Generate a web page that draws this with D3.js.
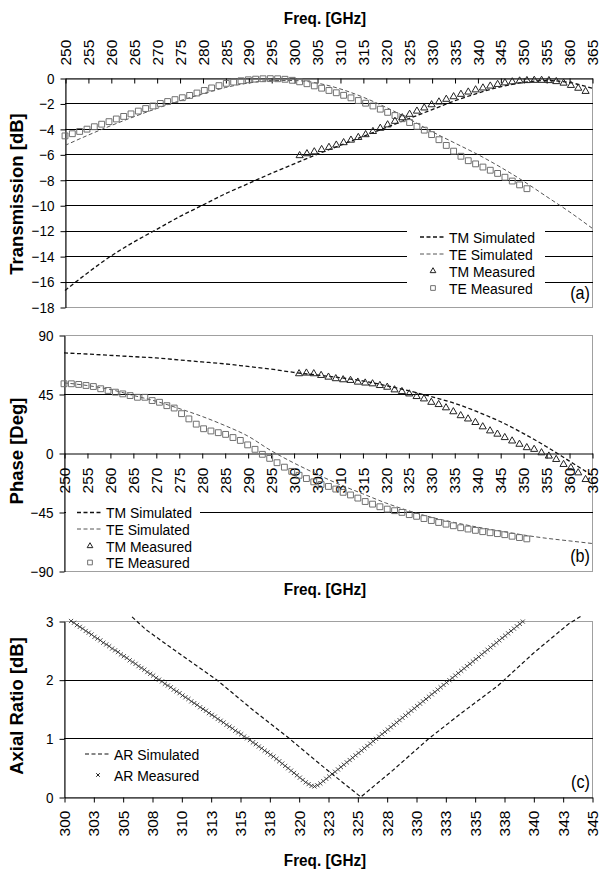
<!DOCTYPE html>
<html>
<head>
<meta charset="utf-8">
<script src="https://cdn.jsdelivr.net/npm/d3@7"></script>
<style>
  body { margin: 0; background: #fff; }
  svg { display: block; font-family: "Liberation Sans", Arial, sans-serif; }
</style>
</head>
<body>
<div id="chart"></div>
<script>
// tick values / labels
var freqTicks = [250,255,260,265,270,275,280,285,290,295,300,305,310,315,320,325,330,335,340,345,350,355,360,365];
var transTicks = [0,-2,-4,-6,-8,-10,-12,-14,-16,-18];
var phaseTicks = [90,45,0,-45,-90];
var arYTicks = [0,1,2,3];
var arTicks = [300,302.5,305,307.5,310,312.5,315,317.5,320,322.5,325,327.5,330,332.5,335,337.5,340,342.5,345];
var arTickLabels = ["300","303","305","308","310","313","315","318","320","323","325","328","330","333","335","338","340","343","345"];

// simulated curves, every 5 GHz
var simFreq = [250,255,260,265,270,275,280,285,290,295,300,305,310,315,320,325,330,335,340,345,350,355,360,365];
var tmSimTrans = [-16.7,-15.3,-14.0,-12.9,-11.9,-10.9,-10.0,-9.1,-8.3,-7.5,-6.75,-6.0,-5.3,-4.6,-3.9,-3.2,-2.5,-1.8,-1.2,-0.7,-0.35,-0.2,-0.35,-0.8];
var teSimTrans = [-5.3,-4.5,-3.75,-3.05,-2.4,-1.8,-1.25,-0.75,-0.4,-0.2,-0.2,-0.4,-0.85,-1.5,-2.3,-3.2,-4.2,-5.1,-6.0,-7.0,-8.1,-9.3,-10.5,-11.8];
var tmSimPhase = [76.3,75.5,74.5,73.5,72.5,71,69.5,68,66,64,61.5,59.5,57.5,55,51.5,47.5,43,38,31.5,24,15,5,-6,-17];
var teSimPhase = [53.5,51.5,48.5,44,39.5,34,28,21,13,2,-7.5,-16,-24,-31,-38,-44,-49,-53,-56.5,-59.5,-62.5,-65,-67,-69];

// measured points
var teMeasFreq = [250,251.6,253.2,254.8,256.4,258,259.6,261.2,262.8,264.4,266,267.6,269.2,270.8,272.4,274,275.6,277.2,278.8,280.4,282,283.6,285.2,286.8,288.4,290,291.6,293.2,294.8,296.4,298,299.6,301.2,302.8,304.4,306,307.6,309.2,310.8,312.4,314,315.6,317.2,318.8,320.4,322,323.6,325.2,326.8,328.4,330,331.6,333.2,334.8,336.4,338,339.6,341.2,342.8,344.4,346,347.6,349.2,350.8];
var teMeasTrans = [-4.55,-4.38,-4.2,-4.02,-3.83,-3.63,-3.43,-3.22,-3.02,-2.82,-2.6,-2.4,-2.2,-2.0,-1.85,-1.7,-1.55,-1.37,-1.18,-0.98,-0.78,-0.6,-0.42,-0.32,-0.22,-0.14,-0.09,-0.06,-0.05,-0.06,-0.1,-0.18,-0.3,-0.45,-0.62,-0.8,-0.98,-1.16,-1.36,-1.56,-1.77,-1.98,-2.2,-2.45,-2.7,-2.95,-3.2,-3.5,-3.8,-4.1,-4.45,-4.85,-5.3,-5.75,-6.15,-6.5,-6.75,-7.0,-7.25,-7.5,-7.8,-8.1,-8.4,-8.7];
var teMeasPhase = [52.8,52.8,52.3,51.5,50.7,49,47.7,46.4,45.1,43.8,42.5,42.5,40,38.7,36.1,34.3,30,26,22,18.5,16.8,15.5,14.2,11.8,9.6,6.2,2.8,-1,-4.1,-7.4,-10.8,-14,-17,-19.5,-22,-24,-25.5,-27.5,-30,-32,-34.4,-37,-39,-41,-42.8,-44,-45.3,-47,-48.3,-50,-51.5,-53,-54.3,-55.5,-57,-58,-59,-60,-60.8,-61.5,-62.3,-63.5,-64.5,-65.5];
var tmMeasFreq = [301.2,302.8,304.4,306,307.6,309.2,310.8,312.4,314,315.6,317.2,318.8,320.4,322,323.6,325.2,326.8,328.4,330,331.6,333.2,334.8,336.4,338,339.6,341.2,342.8,344.4,346,347.6,349.2,350.8,352.4,354,355.6,357.2,358.8,360.4,362,363.6];
var tmMeasTrans = [-6.1,-5.95,-5.8,-5.62,-5.45,-5.27,-5.08,-4.88,-4.67,-4.45,-4.2,-3.95,-3.68,-3.4,-3.12,-2.85,-2.6,-2.35,-2.1,-1.88,-1.67,-1.47,-1.28,-1.1,-0.93,-0.78,-0.63,-0.5,-0.38,-0.3,-0.23,-0.2,-0.18,-0.18,-0.2,-0.28,-0.4,-0.58,-0.8,-1.05];
var tmMeasPhase = [60.5,61,60.5,59.2,57.9,56.7,55.9,55.4,54.1,53.4,52.8,51.5,50.2,48.2,46.9,45.1,43.1,41.3,38.7,37,34.5,31.5,28.5,26,23.3,20,16.9,14.4,11.8,9.2,6.7,4.1,2.8,0.2,-2.3,-4.9,-8.7,-11.3,-15.1,-20.2];

// axial ratio
var arSimFreq = [305.8,307,310,313,316,319,322,325.3,328,331,334,337,340,343,344.2];
var arSim = [3.07,2.85,2.42,2.0,1.5,1.03,0.53,0,0.45,0.98,1.45,1.9,2.45,2.95,3.1];
var arMeasFreq = [
  300.6,300.85,301.1,301.35,301.6,301.85,302.1,302.35,302.6,302.85,
  303.1,303.35,303.6,303.85,304.1,304.35,304.6,304.85,305.1,305.35,
  305.6,305.85,306.1,306.35,306.6,306.85,307.1,307.35,307.6,307.85,
  308.1,308.35,308.6,308.85,309.1,309.35,309.6,309.85,310.1,310.35,
  310.6,310.85,311.1,311.35,311.6,311.85,312.1,312.35,312.6,312.85,
  313.1,313.35,313.6,313.85,314.1,314.35,314.6,314.85,315.1,315.35,
  315.6,315.85,316.1,316.35,316.6,316.85,317.1,317.35,317.6,317.85,
  318.1,318.35,318.6,318.85,319.1,319.35,319.6,319.85,320.1,320.35,
  320.6,320.85,321.1,321.35,321.6,321.85,322.1,322.35,322.6,322.85,
  323.1,323.35,323.6,323.85,324.1,324.35,324.6,324.85,325.1,325.35,
  325.6,325.85,326.1,326.35,326.6,326.85,327.1,327.35,327.6,327.85,
  328.1,328.35,328.6,328.85,329.1,329.35,329.6,329.85,330.1,330.35,
  330.6,330.85,331.1,331.35,331.6,331.85,332.1,332.35,332.6,332.85,
  333.1,333.35,333.6,333.85,334.1,334.35,334.6,334.85,335.1,335.35,
  335.6,335.85,336.1,336.35,336.6,336.85,337.1,337.35,337.6,337.85,
  338.1,338.35,338.6,338.85,339.1];
var arMeas = [
  3.00,2.97,2.93,2.90,2.87,2.83,2.80,2.77,2.73,2.70,
  2.67,2.63,2.60,2.57,2.53,2.50,2.47,2.43,2.40,2.37,
  2.33,2.30,2.27,2.23,2.20,2.17,2.13,2.10,2.07,2.03,
  2.00,1.97,1.93,1.90,1.87,1.83,1.80,1.77,1.73,1.70,
  1.67,1.63,1.60,1.57,1.53,1.50,1.47,1.43,1.40,1.37,
  1.33,1.30,1.27,1.23,1.20,1.17,1.13,1.10,1.07,1.03,
  1.00,0.97,0.93,0.90,0.86,0.83,0.79,0.76,0.72,0.69,
  0.65,0.61,0.57,0.53,0.49,0.45,0.41,0.37,0.33,0.29,
  0.25,0.22,0.19,0.18,0.20,0.23,0.27,0.31,0.35,0.39,
  0.43,0.47,0.51,0.55,0.59,0.63,0.67,0.71,0.75,0.79,
  0.83,0.87,0.91,0.95,0.99,1.03,1.07,1.11,1.15,1.19,
  1.23,1.27,1.31,1.35,1.39,1.43,1.47,1.51,1.55,1.59,
  1.63,1.67,1.71,1.75,1.79,1.83,1.87,1.91,1.95,1.99,
  2.03,2.07,2.11,2.15,2.19,2.23,2.27,2.31,2.35,2.39,
  2.43,2.47,2.51,2.55,2.59,2.63,2.67,2.71,2.75,2.79,
  2.83,2.87,2.91,2.95,2.99];

var svg = d3.select("#chart").append("svg")
    .attr("width", 600)
    .attr("height", 873);

// scales of the three panels
var xA = d3.scaleLinear().domain([250, 365]).range([65, 592]);
var yA = d3.scaleLinear().domain([-18, 0]).range([307, 78]);
var xB = d3.scaleLinear().domain([250, 365]).range([64, 592]);
var yB = d3.scaleLinear().domain([-90, 90]).range([571, 335]);
var xC = d3.scaleLinear().domain([300, 345]).range([64, 592]);
var yC = d3.scaleLinear().domain([0, 3]).range([797, 621]);

var squeeze = 0.9;   // the original text is a bit narrow

function label(x, y, txt, size, anchor, weight) {
  return svg.append("text")
      .attr("transform", "translate(" + x + "," + y + ") scale(" + squeeze + ",1)")
      .attr("text-anchor", anchor)
      .attr("font-size", size)
      .attr("font-weight", weight || "normal")
      .text(txt);
}

function vlabel(x, y, txt) {
  svg.append("text")
      .attr("transform", "translate(" + x + "," + y + ") rotate(-90)")
      .attr("text-anchor", "middle")
      .attr("font-size", 18.5)
      .attr("font-weight", "bold")
      .text(txt);
}

// gray frame plus black grid lines
function frame(x, y, grid) {
  var x0 = x.range()[0], x1 = x.range()[1];
  var top = y.range()[1], bot = y.range()[0];
  svg.append("rect")
      .attr("x", x0 + 0.5).attr("y", top + 0.5)
      .attr("width", x1 - x0).attr("height", bot - top)
      .attr("fill", "none")
      .attr("stroke", "#a0a0a0");
  svg.append("g").selectAll("line")
    .data(grid)
    .join("line")
      .attr("x1", x0).attr("x2", x1 + 1)
      .attr("y1", d => Math.round(y(d)) + 0.5)
      .attr("y2", d => Math.round(y(d)) + 0.5)
      .attr("stroke", "#000");
}

function leftAxis(x, y, ticks) {
  var g = svg.append("g")
      .attr("transform", "translate(" + (x.range()[0] + 0.5) + ",0.5)")
      .call(d3.axisLeft(y).tickValues(ticks).tickFormat(d3.format("d")).tickSize(5).tickSizeOuter(0));
  g.attr("font-family", null).attr("font-size", 15);
  g.selectAll("path, line").attr("stroke", "#000");
  g.selectAll("text")
      .attr("x", -11 / squeeze)
      .attr("transform", "scale(" + squeeze + ",1)");
  return g;
}

function freqAxis(axis, ty, labelOffset, anchor) {
  var g = svg.append("g")
      .attr("transform", "translate(0.5," + (ty + 0.5) + ")")
      .call(axis);
  g.attr("font-family", null).attr("font-size", 15.5);
  g.selectAll("path, line").attr("stroke", "#000");
  g.selectAll("text")
      .attr("transform", "rotate(-90)")
      .attr("x", labelOffset)
      .attr("y", 0)
      .attr("dy", "0.33em")
      .style("text-anchor", anchor);
}

function simLine(x, y, fr, vals, color, width, curve) {
  svg.append("path")
      .datum(d3.zip(fr, vals))
      .attr("fill", "none")
      .attr("stroke", color)
      .attr("stroke-width", width)
      .attr("stroke-dasharray", "4,2.5")
      .attr("d", d3.line().x(d => x(d[0])).y(d => y(d[1])).curve(curve));
}

function markers(x, y, fr, vals, type, size, color, width) {
  svg.append("g").selectAll("path")
    .data(d3.zip(fr, vals))
    .join("path")
      .attr("transform", d => "translate(" + x(d[0]) + "," + y(d[1]) + ")")
      .attr("d", d3.symbol(type, size))
      .attr("fill", "none")
      .attr("stroke", color)
      .attr("stroke-width", width || 1);
}

function legend(x0, items) {
  items.forEach(function(it) {
    if (it.kind === "line") {
      svg.append("line")
          .attr("x1", x0).attr("x2", x0 + 26)
          .attr("y1", it.y).attr("y2", it.y)
          .attr("stroke", it.color).attr("stroke-width", it.width)
          .attr("stroke-dasharray", "4,2.5");
    } else {
      svg.append("path")
          .attr("transform", "translate(" + (x0 + 13) + "," + it.y + ")")
          .attr("d", d3.symbol(it.type, it.size))
          .attr("fill", "none").attr("stroke", it.color);
    }
    label(x0 + 29, it.y + 5.5, it.text, 15.5, "start");
  });
}

// ---------- panel (a) transmission ----------
frame(xA, yA, [-2,-4,-6,-8,-10,-12,-14,-16]);
leftAxis(xA, yA, transTicks);
freqAxis(d3.axisTop(xA).tickValues(freqTicks).tickSizeInner(-5).tickSizeOuter(0), 78, 13, "start");

simLine(xA, yA, simFreq, tmSimTrans, "#111", 1.3, d3.curveMonotoneX);
simLine(xA, yA, simFreq, teSimTrans, "#555", 1, d3.curveMonotoneX);
markers(xA, yA, teMeasFreq, teMeasTrans, d3.symbolSquare, 34, "#707070");
markers(xA, yA, tmMeasFreq, tmMeasTrans, d3.symbolTriangle, 22, "#222");

svg.append("rect").attr("x", 407).attr("y", 228).attr("width", 138).attr("height", 68).attr("fill", "#fff");
legend(420, [
  {kind: "line", y: 237, color: "#111", width: 1.3, text: "TM Simulated"},
  {kind: "line", y: 254, color: "#555", width: 1, text: "TE Simulated"},
  {kind: "sym", y: 271, type: d3.symbolTriangle, size: 14, color: "#222", text: "TM Measured"},
  {kind: "sym", y: 288, type: d3.symbolSquare, size: 22, color: "#707070", text: "TE Measured"}
]);
label(590, 299, "(a)", 18, "end");
label(325, 24, "Freq. [GHz]", 17, "middle", "bold");
vlabel(23, 194, "Transmission [dB]");

// ---------- panel (b) phase ----------
frame(xB, yB, [45, -45]);
leftAxis(xB, yB, phaseTicks);
freqAxis(d3.axisBottom(xB).tickValues(freqTicks).tickSize(5).tickSizeOuter(0), Math.round(yB(0)), -14, "end");

simLine(xB, yB, simFreq, tmSimPhase, "#111", 1.3, d3.curveMonotoneX);
simLine(xB, yB, simFreq, teSimPhase, "#555", 1, d3.curveMonotoneX);
markers(xB, yB, teMeasFreq, teMeasPhase, d3.symbolSquare, 34, "#707070");
markers(xB, yB, tmMeasFreq, tmMeasPhase, d3.symbolTriangle, 22, "#222");

svg.append("rect").attr("x", 66).attr("y", 503).attr("width", 134).attr("height", 67).attr("fill", "#fff");
legend(77, [
  {kind: "line", y: 512.5, color: "#111", width: 1.3, text: "TM Simulated"},
  {kind: "line", y: 529, color: "#555", width: 1, text: "TE Simulated"},
  {kind: "sym", y: 546, type: d3.symbolTriangle, size: 14, color: "#222", text: "TM Measured"},
  {kind: "sym", y: 562.5, type: d3.symbolSquare, size: 22, color: "#707070", text: "TE Measured"}
]);
label(590, 562, "(b)", 18, "end");
label(325, 595, "Freq. [GHz]", 17, "middle", "bold");
vlabel(23, 451, "Phase [Deg]");

// ---------- panel (c) axial ratio ----------
frame(xC, yC, [1, 2]);
leftAxis(xC, yC, arYTicks);
freqAxis(d3.axisBottom(xC).tickValues(arTicks).tickFormat((d, i) => arTickLabels[i]).tickSize(5).tickSizeOuter(0), 797, -13, "end");

simLine(xC, yC, arSimFreq, arSim, "#111", 1.2, d3.curveLinear);
markers(xC, yC, arMeasFreq, arMeas, d3.symbolTimes, 13, "#222", 0.8);

legend(85, [
  {kind: "line", y: 754, color: "#111", width: 1.2, text: "AR Simulated"},
  {kind: "sym", y: 775, type: d3.symbolTimes, size: 10, color: "#222", text: "AR Measured"}
]);
label(590, 788, "(c)", 18, "end");
label(325, 866, "Freq. [GHz]", 17, "middle", "bold");
vlabel(23, 706, "Axial Ratio [dB]");
</script>
</body>
</html>
